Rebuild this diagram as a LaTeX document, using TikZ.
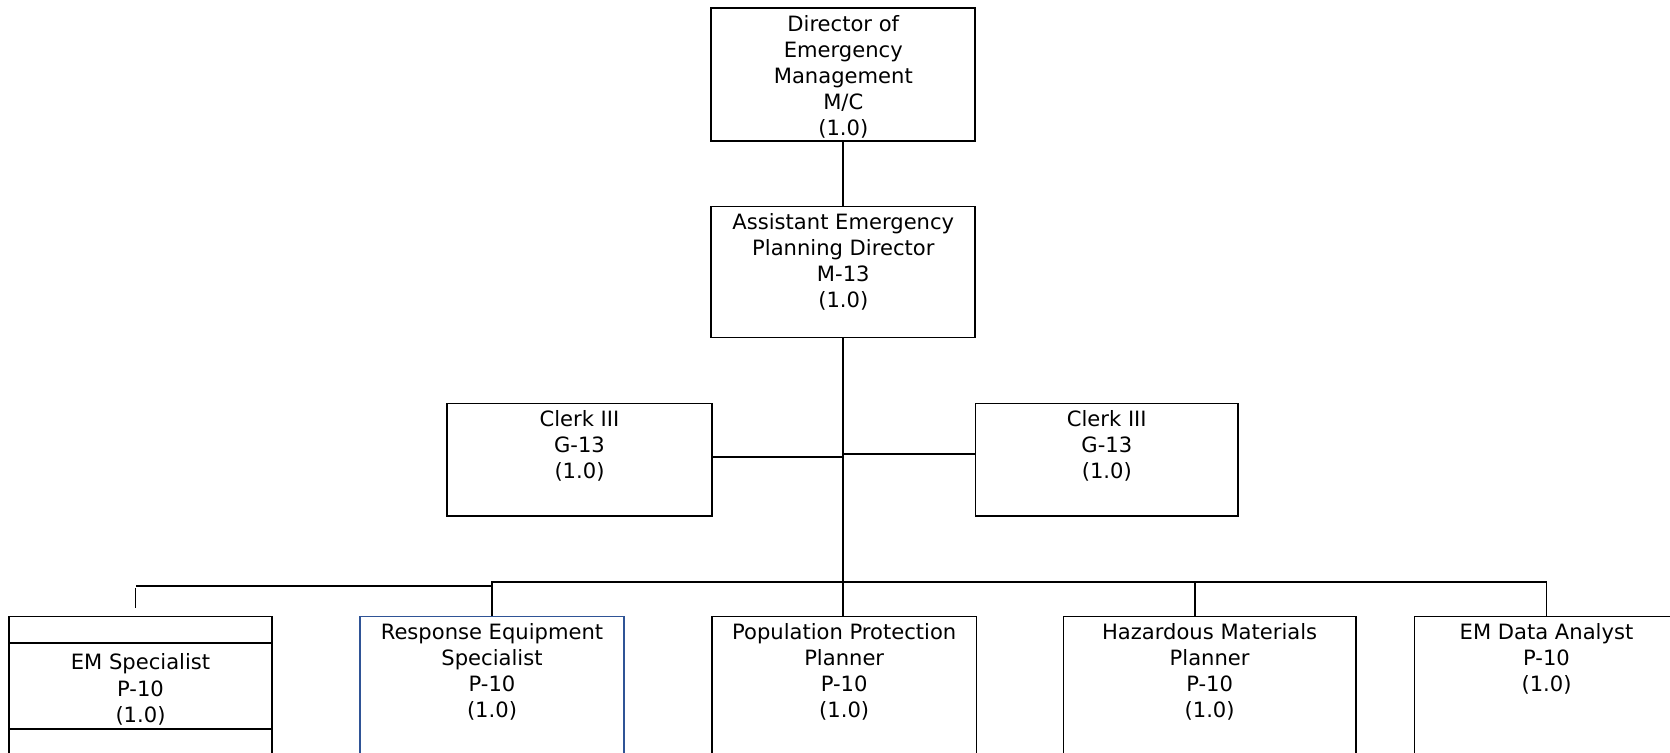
\documentclass[tikz,border=0pt]{standalone}
\usepackage{fontspec}
\setmainfont{DejaVu Sans}
\definecolor{boxblue}{RGB}{47,84,150}

\begin{document}
\begin{tikzpicture}[x=0.02cm,y=-0.02cm,
	post box/.style={draw,rectangle,anchor=north,inner sep=0pt,line width=1pt,minimum width=5.28cm},
	post text/.style={anchor=north,align=center,inner sep=0pt,yshift=-4.2pt,
		font=\fontsize{12}{14.9}\selectfont,execute at begin node=\strut},
	link/.style={line width=1.1pt}]

	\useasboundingbox (0,0) rectangle (1670,753);
	\clip (0,0) rectangle (1670,753);

	% boxes
	\node[post box, minimum height=2.65cm] (dir) at (843.3,7.3) {};
	\node[post box, minimum height=2.62cm] (asst) at (843.3,205.7) {};
	\node[post box, minimum width=5.29cm, minimum height=2.25cm] (clerkL) at (579.5,402.7) {};
	\node[post box, minimum width=5.25cm, minimum height=2.25cm] (clerkR) at (1106.8,402.7) {};
	\node[post box, minimum width=5.26cm, minimum height=3.2cm] (spec) at (140.5,615.7) {};
	\node[post box, draw=boxblue, minimum height=3.2cm] (resp) at (492,615.7) {};
	\node[post box, minimum width=5.29cm, minimum height=3.2cm] (pop) at (844.2,615.7) {};
	\node[post box, minimum width=5.85cm, minimum height=3.2cm] (haz) at (1209.6,615.7) {};
	\node[post box, minimum height=3.2cm] (anal) at (1546.5,615.7) {};

	\draw[line width=1pt] (spec.west |- 0,643.3) -- (spec.east |- 0,643.3);
	\draw[line width=1pt] (spec.west |- 0,729) -- (spec.east |- 0,729);

	% texts
	\node[post text] (dir-t) at (dir.north) {Director of\\Emergency\\Management\\M/C\\(1.0)};
	\node[post text] (asst-t) at (asst.north) {Assistant Emergency\\Planning Director\\M-13\\(1.0)};
	\node[post text] (clerkL-t) at (clerkL.north) {Clerk III\\G-13\\(1.0)};
	\node[post text] (clerkR-t) at (clerkR.north) {Clerk III\\G-13\\(1.0)};
	\node[post text, yshift=-0.61cm] (spec-t) at (spec.north) {EM Specialist\\P-10\\(1.0)};
	\node[post text] (resp-t) at (resp.north) {Response Equipment\\Specialist\\P-10\\(1.0)};
	\node[post text] (pop-t) at (pop.north) {Population Protection\\Planner\\P-10\\(1.0)};
	\node[post text] (haz-t) at (haz.north) {Hazardous Materials\\Planner\\P-10\\(1.0)};
	\node[post text] (anal-t) at (anal.north) {EM Data Analyst\\P-10\\(1.0)};

	% lines
	\coordinate (bus) at (843.3,582);
	\coordinate (busL) at (135.5,585.7);
	\coordinate (tick) at (135.5,588.3);
	\draw[link] (dir.south) -- (asst.north);
	\draw[link] (asst.south) -- (asst.south |- pop.north);
	\draw[link] ([yshift=0.064cm]clerkL.east) -- ([yshift=0.064cm]clerkL.east -| asst.south);
	\draw[link] ([yshift=0.11cm]clerkR.west -| asst.south) -- ([yshift=0.11cm]clerkR.west);
	\draw[link] (resp.north) -- (resp.north |- bus) -- (anal.north |- bus) -- (anal.north);
	\draw[link] ([xshift=-0.3cm]haz.north) -- ([xshift=-0.3cm]haz.north |- bus);
	\draw[link] (resp.north |- busL) -- (busL);
	\draw[link] (tick) -- ++(0,19.2);
\end{tikzpicture}
\end{document}
